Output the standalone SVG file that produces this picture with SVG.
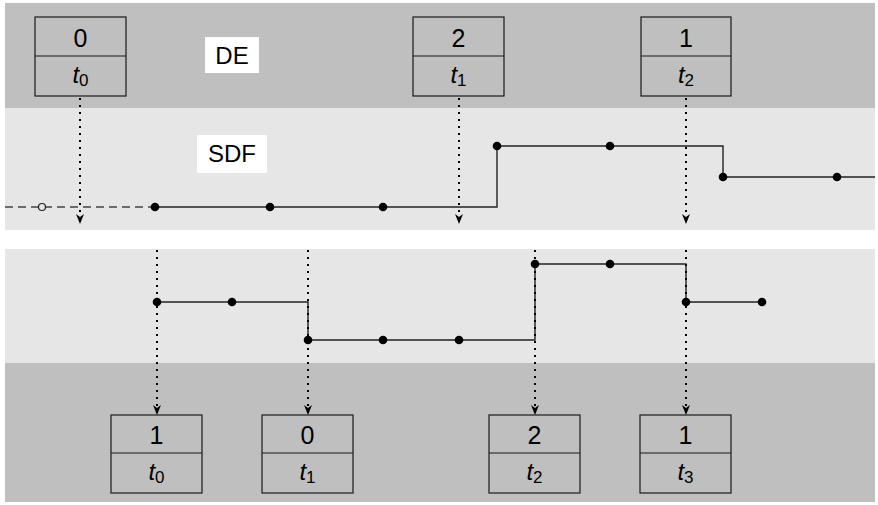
<svg xmlns="http://www.w3.org/2000/svg" width="878" height="505" viewBox="0 0 878 505">
<style>
.dark{fill:#bfbfbf}
.light{fill:#e6e6e6}
.box{fill:#bfbfbf;stroke:#1a1a1a;stroke-width:1.2}
.num{font-family:"Liberation Sans",Arial,sans-serif;font-size:25px;fill:#000;text-anchor:middle}
.t{font-family:"Liberation Sans",Arial,sans-serif;font-size:24px;fill:#000;text-anchor:middle}
.lbl{font-family:"Liberation Sans",Arial,sans-serif;font-size:24px;fill:#000;text-anchor:middle}
.sig{fill:none;stroke:#222;stroke-width:1.4}
.dash{fill:none;stroke:#444;stroke-width:1.4;stroke-dasharray:8 5}
.dot{fill:#000}
.dotted{fill:none;stroke:#000;stroke-width:2;stroke-dasharray:2 5}
</style>
<defs>
<marker id="ah" viewBox="0 0 10 10" refX="10" refY="5" markerWidth="10" markerHeight="10" markerUnits="userSpaceOnUse" orient="auto">
<path d="M0,1 L10,5 L0,9 L3,5 Z" fill="#000"/>
</marker>
</defs>
<rect class="dark" x="5" y="3" width="870" height="105"/>
<rect class="light" x="5" y="108" width="870" height="122"/>
<rect class="light" x="5" y="249" width="870" height="114"/>
<rect class="dark" x="5" y="363" width="870" height="139"/>
<g id="label-DE"><rect x="205" y="37" width="54" height="36" fill="#fff"/><text class="lbl" x="232" y="64">DE</text></g>
<g id="label-SDF"><rect x="197" y="135" width="70" height="38" fill="#fff"/><text class="lbl" x="232" y="162">SDF</text></g>
<g id="signals">
<path class="dash" d="M5,207 H155"/>
<circle cx="42" cy="207" r="3.5" fill="#e6e6e6" stroke="#222" stroke-width="1.2"/>
<path class="sig" d="M155,207 H497 V146 H723 V177 H875"/>
<circle class="dot" cx="155" cy="207" r="4.3"/>
<circle class="dot" cx="270" cy="207" r="4.3"/>
<circle class="dot" cx="383" cy="207" r="4.3"/>
<circle class="dot" cx="497" cy="146" r="4.3"/>
<circle class="dot" cx="610" cy="146" r="4.3"/>
<circle class="dot" cx="723" cy="177" r="4.3"/>
<circle class="dot" cx="837" cy="177" r="4.3"/>
<path class="sig" d="M157,302 H308 V340 H535 V264 H686 V302 H762"/>
<circle class="dot" cx="157" cy="302" r="4.3"/>
<circle class="dot" cx="232" cy="302" r="4.3"/>
<circle class="dot" cx="308" cy="340" r="4.3"/>
<circle class="dot" cx="383" cy="340" r="4.3"/>
<circle class="dot" cx="459" cy="340" r="4.3"/>
<circle class="dot" cx="535" cy="264" r="4.3"/>
<circle class="dot" cx="610" cy="264" r="4.3"/>
<circle class="dot" cx="686" cy="302" r="4.3"/>
<circle class="dot" cx="762" cy="302" r="4.3"/>
</g>
<g id="connectors">
<path class="dotted" d="M80,98 V224" marker-end="url(#ah)"/>
<path class="dotted" d="M459,98 V224" marker-end="url(#ah)"/>
<path class="dotted" d="M686,98 V224" marker-end="url(#ah)"/>
<path class="dotted" d="M157,250 V415" marker-end="url(#ah)"/>
<path class="dotted" d="M308,250 V415" marker-end="url(#ah)"/>
<path class="dotted" d="M535,250 V415" marker-end="url(#ah)"/>
<path class="dotted" d="M686,250 V415" marker-end="url(#ah)"/>
</g>
<g id="de-in-0"><rect class="box" x="35" y="17" width="91" height="79"/><line class="box" x1="35" y1="56" x2="126" y2="56"/><text class="num" x="80.5" y="47">0</text><text class="t" x="80.5" y="83"><tspan font-style="italic">t</tspan><tspan font-size="17" dy="3">0</tspan></text></g>
<g id="de-in-2"><rect class="box" x="413" y="17" width="91" height="79"/><line class="box" x1="413" y1="56" x2="504" y2="56"/><text class="num" x="458.5" y="47">2</text><text class="t" x="458.5" y="83"><tspan font-style="italic">t</tspan><tspan font-size="17" dy="3">1</tspan></text></g>
<g id="de-in-1"><rect class="box" x="641" y="17" width="90" height="79"/><line class="box" x1="641" y1="56" x2="731" y2="56"/><text class="num" x="686" y="47">1</text><text class="t" x="686" y="83"><tspan font-style="italic">t</tspan><tspan font-size="17" dy="3">2</tspan></text></g>
<g id="de-out-1"><rect class="box" x="111" y="415" width="91" height="78"/><line class="box" x1="111" y1="453" x2="202" y2="453"/><text class="num" x="156.5" y="444">1</text><text class="t" x="156.5" y="480"><tspan font-style="italic">t</tspan><tspan font-size="17" dy="3">0</tspan></text></g>
<g id="de-out-0"><rect class="box" x="262" y="415" width="91" height="78"/><line class="box" x1="262" y1="453" x2="353" y2="453"/><text class="num" x="307.5" y="444">0</text><text class="t" x="307.5" y="480"><tspan font-style="italic">t</tspan><tspan font-size="17" dy="3">1</tspan></text></g>
<g id="de-out-2"><rect class="box" x="489" y="415" width="91" height="78"/><line class="box" x1="489" y1="453" x2="580" y2="453"/><text class="num" x="534.5" y="444">2</text><text class="t" x="534.5" y="480"><tspan font-style="italic">t</tspan><tspan font-size="17" dy="3">2</tspan></text></g>
<g id="de-out-1b"><rect class="box" x="640" y="415" width="91" height="78"/><line class="box" x1="640" y1="453" x2="731" y2="453"/><text class="num" x="685.5" y="444">1</text><text class="t" x="685.5" y="480"><tspan font-style="italic">t</tspan><tspan font-size="17" dy="3">3</tspan></text></g>
</svg>
